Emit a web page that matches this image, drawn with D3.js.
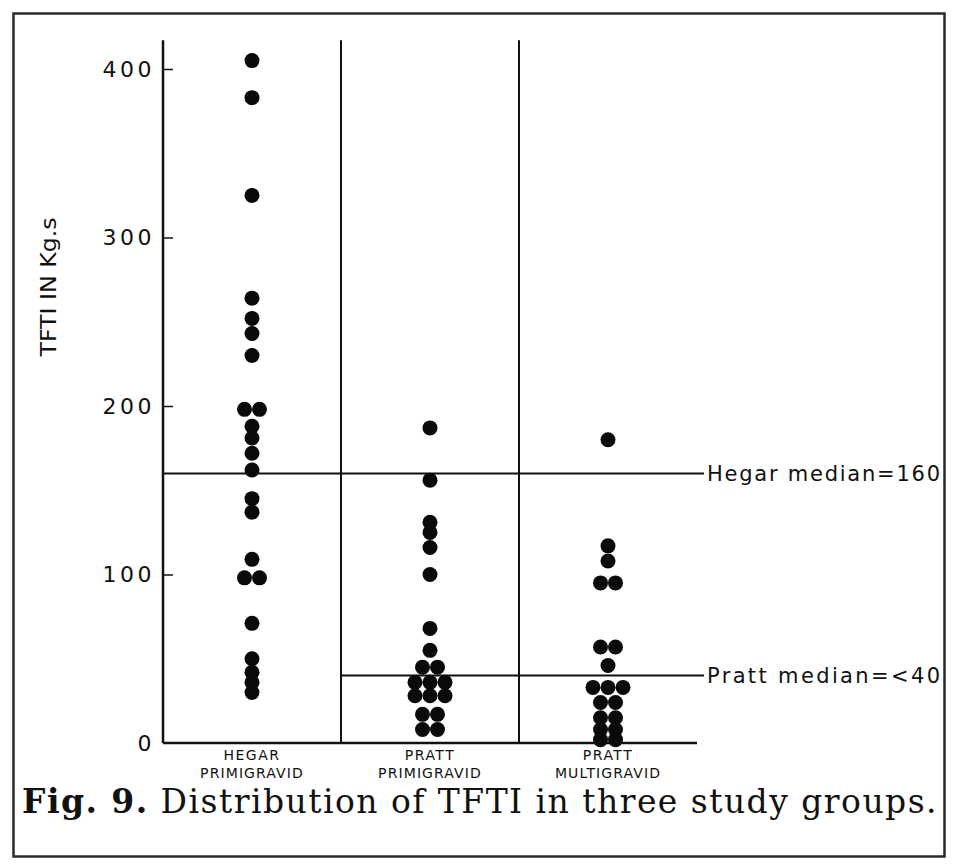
<!DOCTYPE html>
<html>
<head>
<meta charset="utf-8">
<script src="https://cdn.jsdelivr.net/npm/d3@7"></script>
<style>
  body { margin: 0; background: #fff; }
  text { fill: #111; }
</style>
</head>
<body>
<div id="chart"></div>
<script>
    var width = 953,
        height = 867,
        dr = 7.5,        // dot radius
        spread = 15;     // horizontal spacing for equal values

    // data (TFTI in Kg.s)
    var groupTop = ["HEGAR", "PRATT", "PRATT"],
        groupBottom = ["PRIMIGRAVID", "PRIMIGRAVID", "MULTIGRAVID"];

    var hegarValues = [405, 383, 325, 264, 252, 243, 230, 198, 198, 188, 181, 172, 162,
                       145, 137, 109, 98, 98, 71, 50, 42, 36, 30];
    var prattPrimiValues = [187, 156, 131, 125, 116, 100, 68, 55, 45, 45,
                            36, 36, 36, 28, 28, 28, 17, 17, 8, 8];
    var prattMultiValues = [180, 117, 108, 95, 95, 57, 57, 46, 33, 33, 33,
                            24, 24, 15, 15, 8, 8, 2, 2];

    var yTicks = [0, 100, 200, 300, 400];
    var hegarMedian = 160,
        prattMedian = 40;
    var medianLabels = ["Hegar median=160", "Pratt median=<40"];

    var series = [hegarValues, prattPrimiValues, prattMultiValues];

    var svg = d3.select("#chart").append("svg")
        .attr("width", width)
        .attr("height", height);

    // frame
    svg.append("rect")
        .attr("x", 13.5).attr("y", 13.5)
        .attr("width", 931).attr("height", 843)
        .attr("fill", "none")
        .attr("stroke", "#2a2a2a")
        .attr("stroke-width", 2.5);

    var x = d3.scaleBand()
        .domain(d3.range(series.length))
        .range([163, 697]);

    var y = d3.scaleLinear()
        .domain([0, 400])
        .range([743, 69]);

    var yTop = y(417);

    var g = svg.append("g");

    // y axis
    var yAxis = d3.axisLeft(y)
        .tickValues(yTicks)
        .tickSize(-10)
        .tickPadding(8)
        .tickFormat(d3.format("d"));

    var ax = g.append("g")
        .attr("transform", "translate(163,0)")
        .call(yAxis);
    ax.select(".domain").remove();
    ax.selectAll(".tick line")
        .attr("stroke", "#111")
        .attr("stroke-width", 1.5)
        .filter(function (d) { return d === 0; }).remove();
    ax.selectAll(".tick text")
        .attr("font-family", "'DejaVu Sans', sans-serif")
        .attr("font-size", 22)
        .attr("letter-spacing", 3.5)
        .attr("fill", "#111");

    // axis lines and column dividers
    g.append("line")
        .attr("x1", 163).attr("x2", 163)
        .attr("y1", yTop).attr("y2", y(0))
        .attr("stroke", "#111").attr("stroke-width", 2.5);
    g.append("line")
        .attr("x1", 163).attr("x2", x.range()[1])
        .attr("y1", y(0)).attr("y2", y(0))
        .attr("stroke", "#111").attr("stroke-width", 2.5);
    g.selectAll("line.divider")
        .data(d3.range(1, series.length))
        .enter().append("line")
        .attr("class", "divider")
        .attr("x1", function (d) { return x(d); })
        .attr("x2", function (d) { return x(d); })
        .attr("y1", yTop).attr("y2", y(0))
        .attr("stroke", "#111").attr("stroke-width", 2);

    // median lines
    var labelX = 707;
    g.append("line")
        .attr("x1", 163).attr("x2", labelX - 3)
        .attr("y1", y(hegarMedian)).attr("y2", y(hegarMedian))
        .attr("stroke", "#111").attr("stroke-width", 2);
    g.append("line")
        .attr("x1", x(1)).attr("x2", labelX - 3)
        .attr("y1", y(prattMedian)).attr("y2", y(prattMedian))
        .attr("stroke", "#111").attr("stroke-width", 2);

    g.selectAll("text.median")
        .data([hegarMedian, prattMedian])
        .enter().append("text")
        .attr("class", "median")
        .attr("x", labelX)
        .attr("y", function (d) { return y(d); })
        .attr("dy", "0.36em")
        .attr("font-family", "'DejaVu Sans', sans-serif")
        .attr("font-size", 21)
        .attr("textLength", 233)
        .attr("lengthAdjust", "spacing")
        .text(function (d, i) { return medianLabels[i]; });

    // dots: equal values sit side by side
    series.forEach(function (vals, gi) {
        var cx = x(gi) + x.bandwidth() / 2;
        var pts = [];
        d3.groups(vals, function (v) { return v; }).forEach(function (grp) {
            var n = grp[1].length;
            grp[1].forEach(function (v, i) {
                pts.push({ x: cx + (i - (n - 1) / 2) * spread, v: v });
            });
        });
        g.append("g").selectAll("circle")
            .data(pts)
            .enter().append("circle")
            .attr("cx", function (d) { return d.x; })
            .attr("cy", function (d) { return y(d.v); })
            .attr("r", dr)
            .attr("fill", "#0a0a0a");
    });

    // group labels
    var lab = g.selectAll("g.grouplabel")
        .data(d3.range(series.length))
        .enter().append("g")
        .attr("class", "grouplabel")
        .attr("transform", function (d) { return "translate(" + (x(d) + x.bandwidth() / 2) + ",0)"; });
    lab.append("text")
        .attr("y", 760)
        .attr("text-anchor", "middle")
        .attr("font-family", "'DejaVu Sans', sans-serif")
        .attr("font-size", 14)
        .attr("letter-spacing", 1.5)
        .text(function (d) { return groupTop[d]; });
    lab.append("text")
        .attr("y", 778)
        .attr("text-anchor", "middle")
        .attr("font-family", "'DejaVu Sans', sans-serif")
        .attr("font-size", 14)
        .attr("letter-spacing", 1.1)
        .text(function (d) { return groupBottom[d]; });

    // y axis title
    svg.append("text")
        .attr("transform", "translate(56,287) rotate(-90)")
        .attr("text-anchor", "middle")
        .attr("font-family", "'DejaVu Sans Condensed', 'DejaVu Sans', sans-serif")
        .attr("font-size", 21)
        .attr("textLength", 139)
        .attr("lengthAdjust", "spacingAndGlyphs")
        .text("TFTI IN Kg.s");

    // caption, nudged to the width it has in the figure
    var cap = svg.append("text")
        .attr("x", 22)
        .attr("y", 813)
        .attr("font-family", "'DejaVu Serif', serif")
        .attr("font-size", 33);
    cap.append("tspan").attr("font-weight", "bold").text("Fig. 9.");
    cap.append("tspan").text(" Distribution of TFTI in three study groups.");
    var capLen = cap.node().getComputedTextLength(),
        capChars = cap.text().length;
    cap.attr("letter-spacing", (916 - capLen) / capChars);
</script>
</body>
</html>
